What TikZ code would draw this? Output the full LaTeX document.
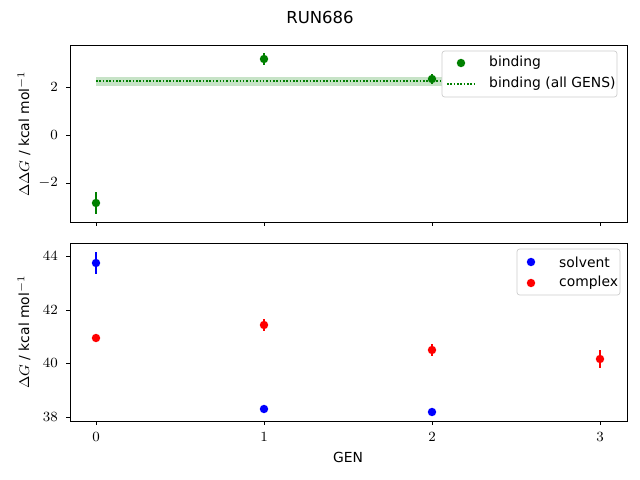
\documentclass[tikz,border=0pt]{standalone}
\usepackage{fontspec}
\setmainfont{DejaVu Sans}
\definecolor{mplgreen}{RGB}{0,128,0}
\begin{document}
\begin{tikzpicture}[x=0.02cm, y=-0.02cm, font=\fontsize{7.9}{9}\selectfont,
  pt/.style={circle, fill=#1, inner sep=0pt, minimum size=4.8pt},
  ebar/.style={draw=#1, line width=0.9pt},
  tck/.style={line width=0.5pt}]
  \useasboundingbox (0,0) rectangle (640,480);
  \def\gx#1{96+168*#1}
  % title
  \node (title) at (320,17) {\fontsize{9.4}{11}\selectfont RUN686};

  % top axes
  \fill[mplgreen!22] (\gx{0},77) rectangle (\gx{3},86);
  \draw[mplgreen, densely dotted, line width=0.9pt] (\gx{0},81) -- (\gx{3},81);
  \foreach \g/\y/\e in {0/203/11, 1/59/6, 2/79/5}{
    \draw[ebar=mplgreen] (\gx{\g},\y-\e) -- (\gx{\g},\y+\e);
    \node[pt=mplgreen] (b\g) at (\gx{\g},\y) {};
  }
  \draw[tck] (70,45) rectangle (627,222);
  \foreach \v/\y in {2/87, 0/135, -2/183}{
    \draw[tck] (70,\y) -- ++(-4,0);
    \node[anchor=east] (ty\y) at (64,\y) {$\v$};
  }
  \foreach \g in {0,...,3} \draw[tck] (\gx{\g},222) -- ++(0,4);
  \node[rotate=90] (ylab1) at (24,134) {$\Delta\Delta G$ / kcal mol$^{-1}$};
  % top legend
  \draw[fill=white, draw=black!20, rounded corners=1.5pt] (442,51) rectangle (617,97);
  \node[pt=mplgreen] (lg1) at (461,63) {};
  \node[anchor=west] (lt1) at (483,63) {binding};
  \draw[mplgreen, densely dotted, line width=0.9pt] (447,84) -- (475,84);
  \node[anchor=west] (lt2) at (483,84) {binding (all GENS)};

  % bottom axes
  \foreach \g/\y/\e in {0/263/11, 1/409/1, 2/412/1}{
    \draw[ebar=blue] (\gx{\g},\y-\e) -- (\gx{\g},\y+\e);
    \node[pt=blue] (s\g) at (\gx{\g},\y) {};
  }
  \foreach \g/\y/\e in {0/338/3, 1/325/6, 2/350/6, 3/359/9}{
    \draw[ebar=red] (\gx{\g},\y-\e) -- (\gx{\g},\y+\e);
    \node[pt=red] (c\g) at (\gx{\g},\y) {};
  }
  \draw[tck] (70,243) rectangle (627,421);
  \foreach \v/\y in {44/256, 42/310, 40/363, 38/417}{
    \draw[tck] (70,\y) -- ++(-4,0);
    \node[anchor=east] (tb\v) at (64,\y) {$\v$};
  }
  \foreach \g in {0,...,3}{
    \draw[tck] (\gx{\g},421) -- ++(0,4);
    \node (tx\g) at (\gx{\g},437) {$\g$};
  }
  \node[rotate=90] (ylab2) at (24,332) {$\Delta G$ / kcal mol$^{-1}$};
  \node (xlab) at (348,457) {GEN};
  % bottom legend
  \draw[fill=white, draw=black!20, rounded corners=1.5pt] (517,249) rectangle (620,295);
  \node[pt=blue] (lg2) at (531,262) {};
  \node[anchor=west] (lt3) at (553,262) {solvent};
  \node[pt=red] (lg3) at (531,283) {};
  \node[anchor=west] (lt4) at (553,283) {complex};
\end{tikzpicture}
\end{document}
